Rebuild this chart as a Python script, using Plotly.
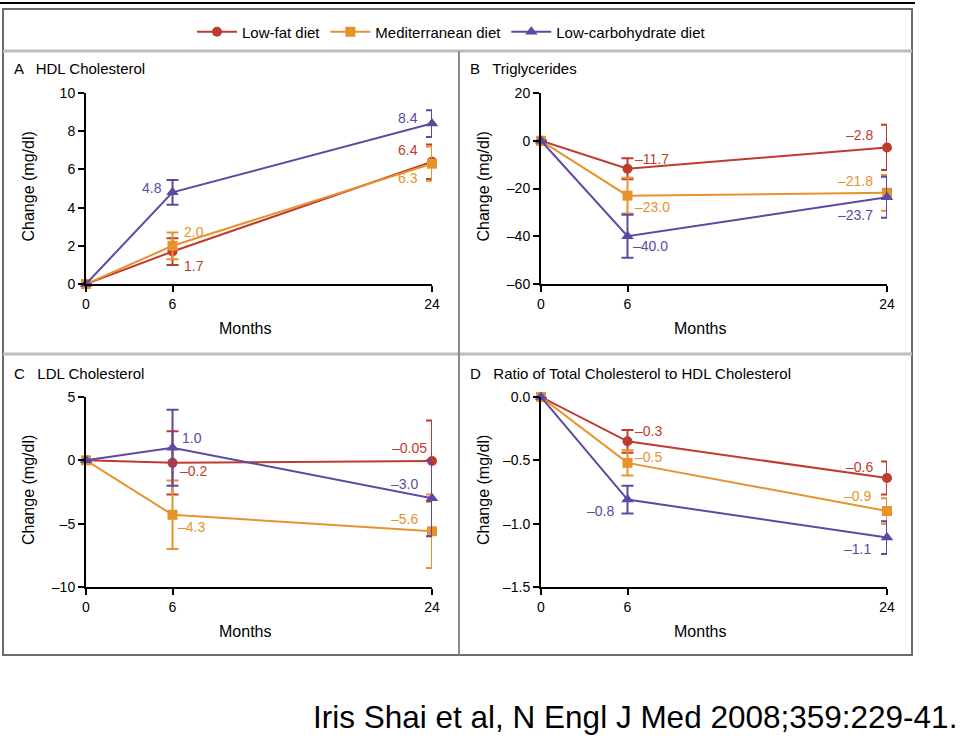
import plotly.graph_objects as go

# ---------------- data ----------------
months = [0, 6, 24]
diets = ["Low-fat diet", "Mediterranean diet", "Low-carbohydrate diet"]

hdl_lowfat = [0, 1.7, 6.4]
hdl_med = [0, 2.0, 6.3]
hdl_lowcarb = [0, 4.8, 8.4]
hdl_err_lowfat = [0, 0.7, 0.9]
hdl_err_med = [0, 0.7, 0.9]
hdl_err_lowcarb = [0, 0.65, 0.7]
hdl_labels_lowfat = ["", "1.7", "6.4"]
hdl_labels_med = ["", "2.0", "6.3"]
hdl_labels_lowcarb = ["", "4.8", "8.4"]

tg_lowfat = [0, -11.7, -2.8]
tg_med = [0, -23.0, -21.8]
tg_lowcarb = [0, -40.0, -23.7]
tg_err_lowfat = [0, 4.4, 9.5]
tg_err_med = [0, 7.5, 7.5]
tg_err_lowcarb = [0, 9.0, 8.6]
tg_labels_lowfat = ["", "–11.7", "–2.8"]
tg_labels_med = ["", "–23.0", "–21.8"]
tg_labels_lowcarb = ["", "–40.0", "–23.7"]

ldl_lowfat = [0, -0.2, -0.05]
ldl_med = [0, -4.3, -5.6]
ldl_lowcarb = [0, 1.0, -3.0]
ldl_err_lowfat = [0, 2.5, 3.2]
ldl_err_med = [0, 2.7, 2.9]
ldl_err_lowcarb = [0, 3.0, 3.0]
ldl_labels_lowfat = ["", "–0.2", "–0.05"]
ldl_labels_med = ["", "–4.3", "–5.6"]
ldl_labels_lowcarb = ["", "1.0", "–3.0"]

ratio_lowfat = [0, -0.35, -0.64]
ratio_med = [0, -0.52, -0.90]
ratio_lowcarb = [0, -0.81, -1.11]
ratio_err_lowfat = [0, 0.09, 0.13]
ratio_err_med = [0, 0.10, 0.10]
ratio_err_lowcarb = [0, 0.11, 0.13]
ratio_labels_lowfat = ["", "–0.3", "–0.6"]
ratio_labels_med = ["", "–0.5", "–0.9"]
ratio_labels_lowcarb = ["", "–0.8", "–1.1"]

hdl_ticks = [0, 2, 4, 6, 8, 10]
hdl_ticktext = ["0", "2", "4", "6", "8", "10"]
tg_ticks = [-60, -40, -20, 0, 20]
tg_ticktext = ["–60", "–40", "–20", "0", "20"]
ldl_ticks = [-10, -5, 0, 5]
ldl_ticktext = ["–10", "–5", "0", "5"]
ratio_ticks = [-1.5, -1.0, -0.5, 0.0]
ratio_ticktext = ["–1.5", "–1.0", "–0.5", "0.0"]
month_ticktext = ["0", "6", "24"]

panel_titles = ["A   HDL Cholesterol", "B   Triglycerides", "C   LDL Cholesterol",
                "D   Ratio of Total Cholesterol to HDL Cholesterol"]
y_title = "Change (mg/dl)"
x_title = "Months"
caption = "Iris Shai et al, N Engl J Med 2008;359:229-41."

# ---------------- style ----------------
W, H = 960, 745
FONT = "Liberation Sans Narrow, Arial Narrow, Liberation Sans, sans-serif"
colors = ["#bf3b2f", "#e8922c", "#5b49a3"]
symbols = ["circle", "square", "triangle-up"]
msizes = [10, 10, 11]

def px(x):
    return x / W

def py(y):
    return 1 - y / H

panels = [
    dict(vals=[hdl_lowfat, hdl_med, hdl_lowcarb],
         errs=[hdl_err_lowfat, hdl_err_med, hdl_err_lowcarb],
         labels=[hdl_labels_lowfat, hdl_labels_med, hdl_labels_lowcarb],
         ticks=hdl_ticks, ticktext=hdl_ticktext, rng=[0, 10],
         # (xanchor, xshift, yshift) per point for each series
         lpos=[[None, ("left", 9, -14), ("right", -12, 12)],
               [None, ("left", 9, 14), ("right", -12, -14)],
               [None, ("right", -9, 4), ("right", -12, 6)]]),
    dict(vals=[tg_lowfat, tg_med, tg_lowcarb],
         errs=[tg_err_lowfat, tg_err_med, tg_err_lowcarb],
         labels=[tg_labels_lowfat, tg_labels_med, tg_labels_lowcarb],
         ticks=tg_ticks, ticktext=tg_ticktext, rng=[-60, 20],
         lpos=[[None, ("left", 5, 10), ("right", -12, 12)],
               [None, ("left", 5, -11), ("right", -12, 12)],
               [None, ("left", 3, -10), ("right", -12, -18)]]),
    dict(vals=[ldl_lowfat, ldl_med, ldl_lowcarb],
         errs=[ldl_err_lowfat, ldl_err_med, ldl_err_lowcarb],
         labels=[ldl_labels_lowfat, ldl_labels_med, ldl_labels_lowcarb],
         ticks=ldl_ticks, ticktext=ldl_ticktext, rng=[-10, 5],
         lpos=[[None, ("left", 5, -8), ("right", -3, 13)],
               [None, ("left", 3, -12), ("right", -12, 12)],
               [None, ("left", 7, 10), ("right", -12, 14)]]),
    dict(vals=[ratio_lowfat, ratio_med, ratio_lowcarb],
         errs=[ratio_err_lowfat, ratio_err_med, ratio_err_lowcarb],
         labels=[ratio_labels_lowfat, ratio_labels_med, ratio_labels_lowcarb],
         ticks=ratio_ticks, ticktext=ratio_ticktext, rng=[-1.5, 0],
         lpos=[[None, ("left", 5, 10), ("right", -12, 11)],
               [None, ("left", 5, 6), ("right", -14, 15)],
               [None, ("right", -12, -11), ("right", -14, -11)]]),
]

# pixel layout of each panel: (x_left, x_right, y_top, y_bottom) in px
boxes = [(86, 432, 93, 284), (541, 887, 93, 284), (86, 432, 397, 587), (541, 887, 397, 587)]
title_pos = [(12, 68), (468, 68), (12, 373), (468, 373)]

fig = go.Figure()
annotations = []
layout_axes = {}

for i, (p, box) in enumerate(zip(panels, boxes)):
    n = i + 1
    xa = "x" if n == 1 else f"x{n}"
    ya = "y" if n == 1 else f"y{n}"
    for s in range(3):
        fig.add_trace(go.Scatter(
            x=months, y=p["vals"][s], xaxis=xa, yaxis=ya,
            mode="lines+markers", name=diets[s], showlegend=(i == 0),
            line=dict(color=colors[s], width=2),
            marker=dict(symbol=symbols[s], size=msizes[s], color=colors[s]),
            error_y=dict(type="data", array=p["errs"][s], visible=True,
                         color=colors[s], thickness=2, width=6),
            cliponaxis=False,
        ))
        for k in range(3):
            lp = p["lpos"][s][k]
            if lp is None or not p["labels"][s][k]:
                continue
            annotations.append(dict(
                x=months[k], y=p["vals"][s][k], xref=xa, yref=ya,
                text=p["labels"][s][k], showarrow=False,
                xanchor=lp[0], yanchor="middle", xshift=lp[1], yshift=lp[2],
                font=dict(family=FONT, size=14, color=colors[s])))
    xl, xr, yt, yb = box
    axis_common = dict(showline=True, linecolor="black", linewidth=2, ticks="outside",
                       ticklen=6, tickwidth=2, tickcolor="black", showgrid=False,
                       zeroline=False, tickfont=dict(family=FONT, size=14, color="black"))
    layout_axes["xaxis" if n == 1 else f"xaxis{n}"] = dict(
        domain=[px(xl), px(xr)], range=[0, 24], anchor=ya,
        tickmode="array", tickvals=months, ticktext=month_ticktext, **axis_common)
    layout_axes["yaxis" if n == 1 else f"yaxis{n}"] = dict(
        domain=[py(yb), py(yt)], range=p["rng"], anchor=xa,
        tickmode="array", tickvals=p["ticks"], ticktext=p["ticktext"], **axis_common)
    # panel title
    tx, ty = title_pos[i]
    annotations.append(dict(x=px(tx), y=py(ty), xref="paper", yref="paper",
                            text=panel_titles[i], showarrow=False, xanchor="left",
                            yanchor="middle", font=dict(family=FONT, size=15, color="black")))
    # axis titles
    annotations.append(dict(x=px(xl - 58), y=py((yt + yb) / 2 - 2), xref="paper", yref="paper",
                            text=y_title, textangle=-90, showarrow=False,
                            xanchor="center", yanchor="middle",
                            font=dict(family=FONT, size=16, color="black")))
    annotations.append(dict(x=px((xl + xr) / 2 - 14), y=py(yb + 44), xref="paper", yref="paper",
                            text=x_title, showarrow=False, xanchor="center", yanchor="middle",
                            font=dict(family=FONT, size=16, color="black")))

annotations.append(dict(x=px(959), y=py(717), xref="paper", yref="paper", text=caption,
                        showarrow=False, xanchor="right", yanchor="middle",
                        font=dict(family="Liberation Sans, Arial, sans-serif", size=31.5,
                                  color="black")))

shapes = [
    dict(type="line", xref="paper", yref="paper", x0=px(0), x1=px(915), y0=py(3), y1=py(3),
         line=dict(color="black", width=2)),
    dict(type="rect", xref="paper", yref="paper", x0=px(3), x1=px(912), y0=py(9), y1=py(655),
         line=dict(color="#6b6b6b", width=2)),
    dict(type="line", xref="paper", yref="paper", x0=px(3), x1=px(912), y0=py(51), y1=py(51),
         line=dict(color="#bdbdbd", width=3)),
    dict(type="line", xref="paper", yref="paper", x0=px(3), x1=px(912), y0=py(354), y1=py(354),
         line=dict(color="#bdbdbd", width=3)),
    dict(type="line", xref="paper", yref="paper", x0=px(459), x1=px(459), y0=py(51), y1=py(655),
         line=dict(color="#8a8a8a", width=2)),
]

fig.update_layout(
    width=W, height=H, margin=dict(l=0, r=0, t=0, b=0, pad=0, autoexpand=False),
    paper_bgcolor="white", plot_bgcolor="white",
    showlegend=True,
    legend=dict(orientation="h", x=px(192), y=py(32), xanchor="left", yanchor="middle",
                font=dict(family=FONT, size=15, color="black"),
                bgcolor="rgba(0,0,0,0)", itemwidth=40, tracegroupgap=0),
    annotations=annotations, shapes=shapes,
    **layout_axes,
)

fig.write_html("out.html", config={"displayModeBar": False},
               post_script="document.body.style.margin='0';document.body.style.padding='0';")
